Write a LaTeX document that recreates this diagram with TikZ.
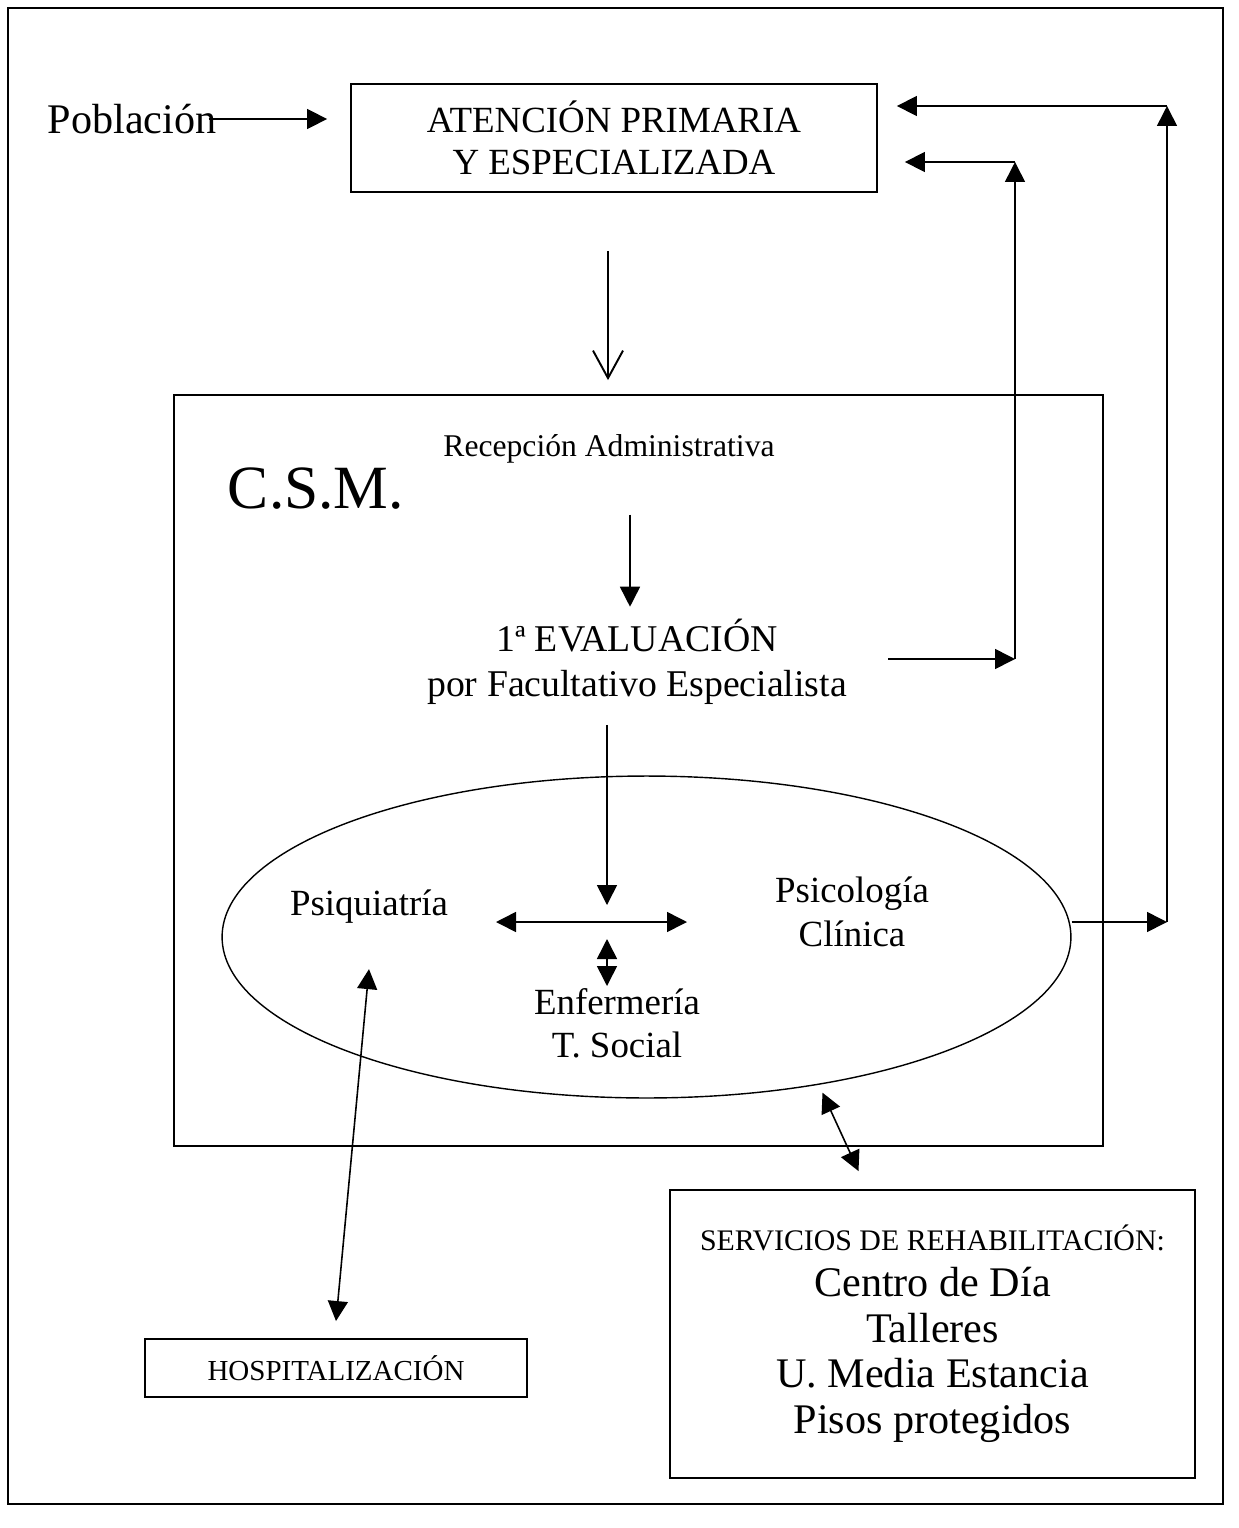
\documentclass[tikz,border=0pt]{standalone}
\usepackage{fontspec}
\setmainfont{Liberation Serif}
\usetikzlibrary{shapes.geometric, arrows.meta, positioning, calc}
\newcommand{\fsz}[2]{\fontsize{#1}{#2}\selectfont}

\begin{document}
\begin{tikzpicture}[x=0.02cm, y=-0.02cm,
  box/.style={draw, rectangle, line width=1.1pt, inner sep=0pt, align=center},
  txt/.style={inner sep=0pt, align=center},
  arr/.style={-{Triangle[length=0.4cm, width=0.4cm]}, line width=0.9pt},
  darr/.style={{Triangle[length=0.4cm, width=0.4cm]}-{Triangle[length=0.4cm, width=0.4cm]}, line width=0.9pt},
  bigarr/.style={-{Straight Barb[length=0.55cm, width=0.6cm, line width=1.1pt]}, line width=1.1pt}]
  % page and outer frame
  \useasboundingbox (0,0) rectangle (1238,1528);
  \draw[line width=1.5pt] (8,8) rectangle (1223,1504);

  % Atencion primaria
  \node[box, minimum width=10.52cm, minimum height=2.16cm, font=\fsz{21}{24}] (aps) at (614,138) {ATENCIÓN PRIMARIA\\Y ESPECIALIZADA};
  \node[txt, font=\fsz{24}{28}] (pob) at (132,119) {Población};
  \draw[arr, shorten >=0.46cm] ($(pob.east)+(-8,0)$) -- (pob.east -| aps.west);

  % C.S.M. box
  \node[box, minimum width=18.58cm, minimum height=15.02cm] (csm) at (638.5,770.5) {};
  \node[txt, font=\fsz{35}{40}] (csmlbl) at (316,489) {C.S.M.};
  \draw[bigarr] ($(aps.south)+(-6,58)$) -- ($(csm.north)+(-30.5,-14)$);

  \node[txt, font=\fsz{18}{21}] (recep) at (609,449) {Recepción Administrativa};
  \node[txt, font=\fsz{21.5}{25.5}] (eval) at (637,662) {1ª EVALUACIÓN\\por Facultativo Especialista};
  \draw[arr] ($(recep.south)+(21,51)$) -- ($(recep.south)+(21,143)$);

  % Team
  \node[draw, ellipse, line width=0.8pt, inner sep=0pt, minimum width=16.98cm, minimum height=6.44cm] (team) at (646.5,937) {};
  \node[txt, font=\fsz{21}{25}] (psiq) at (369,907) {Psiquiatría};
  \node[txt, font=\fsz{21}{25}] (psic) at (852,912) {Psicología\\Clínica};
  \node[txt, font=\fsz{21}{24.5}] (enf) at (617,1023) {Enfermería\\T. Social};
  \coordinate (hub) at (607,922);
  \draw[arr, shorten >=0.34cm] (hub |- eval.south) ++(0,20) -- (hub);
  \draw[darr] ($(hub)+(-111,0)$) -- ($(hub)+(80,0)$);
  \draw[darr] ($(hub)+(0,17)$) -- ($(hub)+(0,64)$);

  % Return paths to primary care
  \coordinate (c1) at (1015,659);
  \coordinate (c2) at (1167,922);
  \draw[arr] ($(eval.east |- c1)+(41,0)$) -- (c1);
  \draw[arr] (c1) -- (c1 |- 0,162) coordinate (c1t);
  \draw[arr, shorten >=0.54cm] (c1t) -- (c1t -| aps.east);
  \draw[arr] (team.east |- c2) -- (c2);
  \draw[arr] (c2) -- (c2 |- 0,106) coordinate (c2t);
  \draw[arr, shorten >=0.38cm] (c2t) -- (c2t -| aps.east);

  % Hospitalizacion and rehabilitacion
  \node[box, minimum width=7.64cm, minimum height=1.16cm, font=\fsz{16.5}{20}] (hosp) at (336,1368) {HOSPITALIZACIÓN};
  \node[box, minimum width=10.5cm, minimum height=5.76cm, font=\fsz{24}{26}] (rehab) at (932.5,1334) {{\fsz{17}{20}SERVICIOS DE REHABILITACIÓN:}\\Centro de Día\\Talleres\\U. Media Estancia\\Pisos protegidos};
  \draw[darr] ($(psiq.south)+(0,45)$) -- ($(hosp.north)+(0,-17)$);
  \draw[darr] ($(team.south)+(176,-6)$) -- ($(rehab.north)+(-74,-18)$);
\end{tikzpicture}
\end{document}
